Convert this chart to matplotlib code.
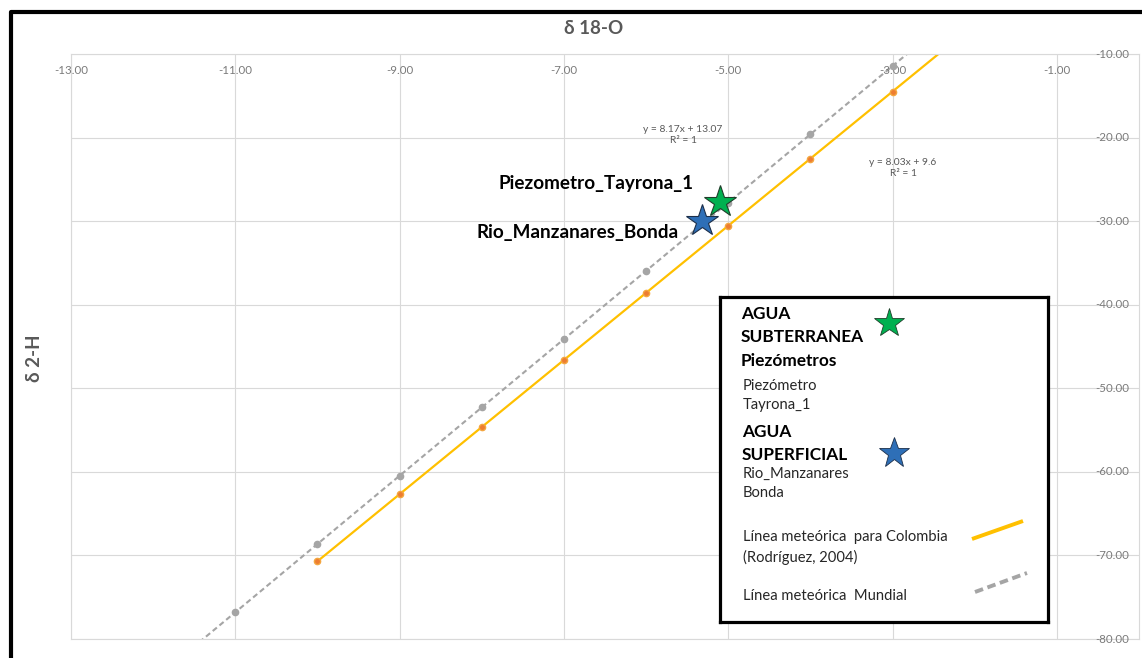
import matplotlib.pyplot as plt
import numpy as np
from matplotlib.lines import Line2D

plt.rcParams['font.family'] = ['Lato', 'DejaVu Sans']

W, H = 1142, 658

# Línea meteórica mundial
mundial_d18o = [-11, -10, -9, -8, -7, -6, -5, -4, -3]
mundial_d2h = [-76.80, -68.63, -60.46, -52.29, -44.12, -35.95, -27.78, -19.61, -11.44]

# Línea meteórica para Colombia (Rodríguez, 2004)
colombia_d18o = [-10, -9, -8, -7, -6, -5, -4, -3]
colombia_d2h = [-70.70, -62.67, -54.64, -46.61, -38.58, -30.55, -22.52, -14.49]

# Muestras
piezometro_d18o = [-5.10]
piezometro_d2h = [-27.7]
rio_d18o = [-5.32]
rio_d2h = [-30.0]

x_ticks = [-13, -11, -9, -7, -5, -3, -1]
y_ticks = [-10, -20, -30, -40, -50, -60, -70, -80]

GRAY_TXT = '#595959'
GRID = '#d9d9d9'
GREEN = '#00b050'
BLUE = '#2e6fb7'
YELLOW = '#ffc000'
ORANGE = '#ed7d31'
GRAYLINE = '#a5a5a5'


def fpx(x, y):
    # pixel position (from top-left) -> figure pixels
    return (x, H - y)


fig = plt.figure(figsize=(W / 100, H / 100), dpi=100)
ax = fig.add_axes([71 / W, 19 / H, 1068 / W, 585 / H])
ax.set_xlim(-13, 0)
ax.set_ylim(-80, -10)
ax.set_xticks(x_ticks)
ax.set_yticks(y_ticks)
ax.tick_params(length=0, labelbottom=False, labelleft=False)
ax.grid(True, color=GRID, linewidth=0.8)
for s in ax.spines.values():
    s.set_color(GRID)
    s.set_linewidth(0.8)

# tick labels drawn inside the plot area
for xv in x_ticks:
    ax.text(xv, (639 - 70) / 585, f'{xv:.2f}', transform=ax.get_xaxis_transform(),
            ha='center', va='center', fontsize=8.3, color='#7a7a7a')
for yv in y_ticks:
    ax.text((1112 - 71) / 1068, yv, f'{yv:.2f}', transform=ax.get_yaxis_transform(),
            ha='center', va='center', fontsize=8.3, color='#7a7a7a')

# trend lines
m_g, b_g = np.polyfit(mundial_d18o, mundial_d2h, 1)
xs = np.array([-13, 0])
ax.plot(xs, m_g * xs + b_g, color=GRAYLINE, lw=1.5, linestyle=(0, (2.6, 1.6)), zorder=2)
ax.plot(mundial_d18o, mundial_d2h, 'o', color=GRAYLINE, ms=4.5, zorder=3)

m_c, b_c = np.polyfit(colombia_d18o, colombia_d2h, 1)
xc = np.array([colombia_d18o[0], 0])
ax.plot(xc, m_c * xc + b_c, color=YELLOW, lw=1.6, zorder=2)
ax.plot(colombia_d18o, colombia_d2h, 'o', color=ORANGE, mec='#f4a640', ms=4.5, zorder=3)

ax.plot(piezometro_d18o, piezometro_d2h, '*', color=GREEN, mec='#1f3f2a', mew=0.8, ms=24, zorder=5)
ax.plot(rio_d18o, rio_d2h, '*', color=BLUE, mec='#1c2f4a', mew=0.8, ms=24, zorder=4)

ax.annotate('Piezometro_Tayrona_1', (piezometro_d18o[0], piezometro_d2h[0]),
            xytext=(-27, 18), textcoords='offset pixels', ha='right', va='center',
            fontsize=13.6, fontweight='bold', color='black')
ax.annotate('Rio_Manzanares_Bonda', (rio_d18o[0], rio_d2h[0]),
            xytext=(-23, -11), textcoords='offset pixels', ha='right', va='center',
            fontsize=13.6, fontweight='bold', color='black')

# equations
ax.annotate('y = 8.17x + 13.07\nR² = 1', fpx(683, 135), xycoords='figure pixels',
            ha='center', va='center', fontsize=7.4, color=GRAY_TXT, linespacing=1.25)
ax.annotate('y = 8.03x + 9.6\nR² = 1', fpx(903, 168), xycoords='figure pixels',
            ha='center', va='center', fontsize=7.4, color=GRAY_TXT, linespacing=1.25)

# axis titles
fig.text(594 / W, 1 - 28 / H, 'δ 18-O', ha='center', va='center',
         fontsize=13.5, fontweight='bold', color=GRAY_TXT)
fig.text(35 / W, 1 - 358 / H, 'δ 2-H', ha='center', va='center', rotation=90,
         fontsize=13.5, fontweight='bold', color=GRAY_TXT)

# legend box (coordinates in pixels inside the box)
lg = fig.add_axes([720 / W, 1 - 622 / H, 328 / W, 325 / H], zorder=10)
lg.set_xlim(0, 328)
lg.set_ylim(325, 0)
lg.set_xticks([])
lg.set_yticks([])
for s in lg.spines.values():
    s.set_color('black')
    s.set_linewidth(2.3)

bold = dict(fontsize=12.4, fontweight='bold', color='black', va='center', ha='left')
norm = dict(fontsize=10.6, color='#262626', va='center', ha='left')
lg.text(21, 17, 'AGUA', **bold)
lg.text(21, 40, 'SUBTERRANEA', **bold)
lg.text(21, 64, 'Piezómetros', **bold)
lg.text(23, 89, 'Piezómetro', **norm)
lg.text(23, 108, 'Tayrona_1', **norm)
lg.text(22, 135, 'AGUA', **bold)
lg.text(22, 158, 'SUPERFICIAL', **bold)
lg.text(23, 177, 'Rio_Manzanares', **norm)
lg.text(23, 196, 'Bonda', **norm)
lg.text(23, 240, 'Línea meteórica  para Colombia', **norm)
lg.text(23, 260, '(Rodríguez, 2004)', **norm)
lg.text(23, 299, 'Línea meteórica  Mundial', **norm)
lg.plot([169], [26], '*', color=GREEN, mec='#1f3f2a', mew=0.6, ms=22)
lg.plot([174], [156], '*', color=BLUE, mec='#1c2f4a', mew=0.6, ms=23)
lg.plot([252, 303], [242, 224], color=YELLOW, lw=2.8, solid_capstyle='butt')
lg.plot([255, 307], [295, 276], color=GRAYLINE, lw=2.8, linestyle=(0, (2.2, 1.2)))

# outer frame
fig.add_artist(Line2D([11 / W, 11 / W, 1.0], [0.0, 1 - 12 / H, 1 - 12 / H],
                      transform=fig.transFigure, color='black', lw=3))

fig.savefig('out.png', dpi=100)
